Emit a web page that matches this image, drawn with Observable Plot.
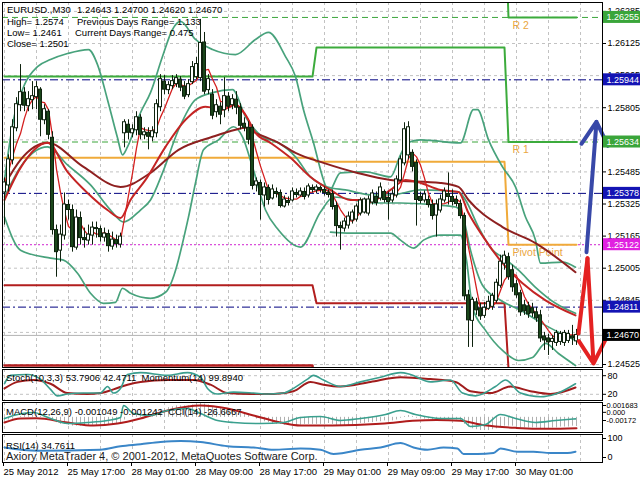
<!DOCTYPE html>
<html><head><meta charset="utf-8">
<script src="https://cdn.jsdelivr.net/npm/d3@7"></script>
<script src="https://cdn.jsdelivr.net/npm/@observablehq/plot@0.6"></script>
<style>
body{margin:0;background:#fff}
#c{position:relative;width:640px;height:480px;background:#fff;overflow:hidden;font-family:"Liberation Sans",Arial,sans-serif}
#c svg{position:absolute;left:0;overflow:visible}
.t{position:absolute;white-space:pre;font-size:9.5px;line-height:11px;color:#000}
</style></head><body><div id="c"></div>
<script>
// ---------- DATA ----------
const open=[1.25385,1.25420,1.25545,1.25705,1.25820,1.25880,1.25815,1.25845,1.25860,1.25895,
1.25745,1.25785,1.25655,1.25195,1.25095,1.25170,1.25320,1.25295,1.25110,1.25255,
1.25155,1.25145,1.25170,1.25205,1.25200,1.25160,1.25175,1.25115,1.25145,1.25125,
1.25680,1.25720,1.25680,1.25695,1.25755,1.25670,1.25680,1.25660,1.25680,1.25810,
1.25935,1.25895,1.25915,1.25925,1.25945,1.25910,1.25870,1.25935,1.25960,1.25955,
1.26130,1.25895,1.25870,1.25785,1.25810,1.25795,1.25860,1.25820,1.25845,1.25805,
1.25725,1.25705,1.25705,1.25420,1.25430,1.25370,1.25405,1.25355,1.25385,1.25380,
1.25315,1.25340,1.25345,1.25380,1.25370,1.25385,1.25370,1.25405,1.25395,1.25405,
1.25395,1.25380,1.25375,1.25315,1.25215,1.25205,1.25220,1.25245,1.25250,1.25280,
1.25285,1.25280,1.25335,1.25360,1.25355,1.25385,1.25355,1.25345,1.25370,1.25445,
1.25530,1.25570,1.25580,1.25530,1.25360,1.25345,1.25345,1.25320,1.25270,1.25295,
1.25345,1.25375,1.25360,1.25345,1.25325,1.25265,1.24870,1.24745,1.24835,1.24805,
1.24770,1.24805,1.24815,1.24845,1.24920,1.25030,1.25060,1.24995,1.24925,1.24880,
1.24820,1.24815,1.24805,1.24785,1.24770,1.24665,1.24655,1.24640,1.24635,1.24640,
1.24635,1.24645,1.24665,1.24643];
const high=[1.25455,1.25570,1.25745,1.25855,1.26020,1.25905,1.25885,1.25935,1.25935,1.25905,
1.25820,1.25795,1.25685,1.25220,1.25220,1.25380,1.25345,1.25320,1.25295,1.25285,
1.25205,1.25220,1.25235,1.25235,1.25215,1.25205,1.25195,1.25185,1.25170,1.25180,
1.25745,1.25745,1.25720,1.25785,1.25770,1.25705,1.25705,1.25710,1.25845,1.25970,
1.25965,1.25935,1.25965,1.25970,1.25960,1.25935,1.25945,1.26035,1.26055,1.26245,
1.26180,1.25970,1.25895,1.25845,1.25830,1.25955,1.25880,1.25870,1.25885,1.25825,
1.25755,1.25735,1.25720,1.25455,1.25445,1.25430,1.25420,1.25420,1.25405,1.25395,
1.25365,1.25360,1.25405,1.25400,1.25405,1.25405,1.25425,1.25420,1.25420,1.25415,
1.25410,1.25395,1.25395,1.25335,1.25235,1.25255,1.25285,1.25295,1.25325,1.25355,
1.25355,1.25365,1.25395,1.25385,1.25430,1.25395,1.25385,1.25395,1.25465,1.25565,
1.25730,1.25735,1.25595,1.25545,1.25385,1.25390,1.25365,1.25345,1.25345,1.25370,
1.25405,1.25480,1.25395,1.25365,1.25345,1.25280,1.24895,1.24860,1.24855,1.24830,
1.24835,1.24865,1.24880,1.24950,1.25070,1.25090,1.25080,1.25020,1.24945,1.24895,
1.24845,1.24835,1.24830,1.24810,1.24795,1.24685,1.24675,1.24670,1.24695,1.24690,
1.24695,1.24695,1.24720,1.24700];
const low=[1.25220,1.25385,1.25520,1.25685,1.25785,1.25785,1.25785,1.25795,1.25795,1.25660,
1.25720,1.25645,1.25170,1.24960,1.25035,1.25145,1.25245,1.25085,1.25095,1.25120,
1.25105,1.25120,1.25120,1.25155,1.25135,1.25135,1.25085,1.25095,1.25105,1.25105,
1.25605,1.25645,1.25655,1.25665,1.25645,1.25645,1.25595,1.25635,1.25655,1.25785,
1.25870,1.25870,1.25895,1.25905,1.25885,1.25845,1.25855,1.25920,1.25945,1.25935,
1.25870,1.25870,1.25745,1.25755,1.25720,1.25755,1.25785,1.25795,1.25770,1.25695,
1.25685,1.25620,1.25395,1.25385,1.25245,1.25310,1.25320,1.25345,1.25355,1.25305,
1.25305,1.25315,1.25335,1.25355,1.25360,1.25345,1.25355,1.25380,1.25375,1.25380,
1.25365,1.25355,1.25295,1.25160,1.25095,1.25185,1.25200,1.25225,1.25235,1.25265,
1.25275,1.25265,1.25320,1.25315,1.25340,1.25330,1.25245,1.25330,1.25355,1.25435,
1.25515,1.25545,1.25485,1.25215,1.25325,1.25330,1.25305,1.25245,1.25160,1.25280,
1.25330,1.25320,1.25315,1.25310,1.25250,1.24845,1.24610,1.24610,1.24770,1.24745,
1.24755,1.24795,1.24795,1.24830,1.24905,1.24995,1.24945,1.24885,1.24855,1.24765,
1.24770,1.24755,1.24760,1.24735,1.24635,1.24595,1.24570,1.24595,1.24615,1.24620,
1.24615,1.24630,1.24620,1.24620];
const close=[1.25430,1.25545,1.25705,1.25820,1.25880,1.25815,1.25845,1.25860,1.25905,1.25745,
1.25795,1.25670,1.25195,1.25085,1.25170,1.25320,1.25295,1.25110,1.25255,1.25155,
1.25145,1.25170,1.25205,1.25200,1.25160,1.25175,1.25115,1.25145,1.25125,1.25160,
1.25730,1.25680,1.25695,1.25755,1.25670,1.25680,1.25660,1.25685,1.25820,1.25945,
1.25895,1.25915,1.25935,1.25950,1.25905,1.25860,1.25920,1.26005,1.26020,1.26125,
1.25885,1.25945,1.25765,1.25815,1.25770,1.25860,1.25810,1.25845,1.25805,1.25715,
1.25705,1.25645,1.25415,1.25435,1.25370,1.25405,1.25345,1.25395,1.25375,1.25315,
1.25345,1.25330,1.25385,1.25370,1.25385,1.25360,1.25410,1.25395,1.25405,1.25395,
1.25380,1.25370,1.25310,1.25215,1.25205,1.25235,1.25260,1.25280,1.25310,1.25340,
1.25345,1.25345,1.25375,1.25330,1.25405,1.25345,1.25335,1.25370,1.25445,1.25545,
1.25695,1.25705,1.25510,1.25345,1.25340,1.25370,1.25320,1.25265,1.25320,1.25345,
1.25385,1.25360,1.25335,1.25325,1.25265,1.24865,1.24745,1.24845,1.24795,1.24765,
1.24805,1.24835,1.24865,1.24930,1.25035,1.25065,1.24960,1.24910,1.24870,1.24785,
1.24790,1.24775,1.24780,1.24755,1.24655,1.24645,1.24635,1.24650,1.24680,1.24675,
1.24680,1.24675,1.24655,1.24670];

const priceTicks=[1.24525,1.24685,1.24845,1.25005,1.25165,1.25325,1.25485,1.25645,1.25805,1.25965,1.26125,1.26285];
const timeLabels=["25 May 2012","25 May 17:00","28 May 01:00","28 May 09:00","28 May 17:00","29 May 01:00","29 May 09:00","29 May 17:00","30 May 01:00"];
const timeLabelBars=[0,16,32,48,64,80,96,112,128];

// Bollinger-style bands and moving averages: [bar, price]
const bandOuterUpper=[[0,1.25445],[2.25,1.25745],[5,1.25920],[8.25,1.26010],[11.5,1.26045],[15.75,1.26075],[21,1.26095],[23.25,1.26020],[25.75,1.25845],[28.25,1.25655],[29.5,1.25570],[30.75,1.25610],[34,1.25780],[36.5,1.25880],[39.5,1.26060],[42,1.26195],[44,1.26235],[47.75,1.26145],[52,1.26095],[57.75,1.26070],[62.75,1.26145],[66,1.26180],[70.25,1.26060],[72.75,1.25960],[74.75,1.25795],[77.25,1.25630],[79.75,1.25445],[81,1.25385],[84,1.25480],[90.25,1.25485],[96.5,1.25460],[99,1.25570],[100.75,1.25630],[104,1.25645],[114,1.25630],[117.25,1.25795],[118.25,1.25795],[121,1.25645],[124.5,1.25510],[127.75,1.25410],[130.25,1.25260],[132.75,1.25145],[134,1.25030],[139.5,1.25035],[142.75,1.25010]];
const bandInnerUpper=[[0,1.25360],[4,1.25510],[10.75,1.25610],[15.75,1.25520],[21.5,1.25420],[26.5,1.25295],[29.75,1.25235],[34,1.25295],[36.5,1.25345],[39.5,1.25480],[43.5,1.25695],[47.75,1.25845],[52,1.25880],[57,1.25895],[60.25,1.25760],[64.5,1.25660],[68.5,1.25630],[72.75,1.25560],[76.5,1.25460],[80.75,1.25410],[85.25,1.25395],[92.25,1.25370],[96.5,1.25370],[104,1.25395],[113.5,1.25385],[115.25,1.25345],[118.5,1.25210],[122,1.25095],[124.5,1.25060],[128.5,1.24995],[132.75,1.24910],[137.75,1.24830],[142.75,1.24780]];
const bandInnerLower=[[0,1.25260],[4,1.25095],[11.5,1.25055],[14.75,1.25045],[18.25,1.24980],[21.5,1.24880],[24.75,1.24830],[27.75,1.24835],[29.5,1.24905],[31.5,1.24880],[36.5,1.24855],[40.25,1.24885],[46,1.25260],[47.75,1.25430],[49.75,1.25595],[53.5,1.25645],[57.25,1.25710],[59.5,1.25660],[62,1.25510],[65.25,1.25295],[68.5,1.25195],[74,1.25110],[79,1.25285],[82.25,1.25360],[92.25,1.25330],[99,1.25330],[107.75,1.25320],[112.75,1.25310],[114.5,1.25270],[116.5,1.25095],[119.5,1.24920],[124,1.24845],[129,1.24795],[135.25,1.24720],[142.75,1.24645]];
const bandOuterLower=[[81.5,1.25185],[86.5,1.25180],[96.5,1.25180],[99,1.25145],[102.25,1.25105],[104.75,1.25145],[109,1.25170],[114,1.25170],[115.5,1.25045],[117,1.24810],[120.25,1.24695],[124.5,1.24595],[128.5,1.24545],[132,1.24560],[135.25,1.24630],[138.5,1.24580],[142.75,1.24520]];
const maMid=[[0,1.25345],[4,1.25505],[10.75,1.25630],[15.75,1.25485],[20.75,1.25380],[25.75,1.25295],[29,1.25255],[31.5,1.25345],[35.25,1.25445],[40.25,1.25610],[45.25,1.25745],[50.25,1.25810],[54.5,1.25795],[57.75,1.25820],[60.25,1.25770],[62.75,1.25680],[66.5,1.25630],[71.5,1.25555],[76.5,1.25460],[81.5,1.25395],[86.5,1.25345],[92.25,1.25345],[96.5,1.25395],[100.25,1.25445],[103.25,1.25435],[109,1.25395],[113.5,1.25385],[116,1.25280],[120.25,1.25145],[124.5,1.25030],[129.5,1.24930],[135.25,1.24845],[142.75,1.24770]];
const maSlow=[[0,1.25420],[4,1.25545],[10.75,1.25630],[19.75,1.25510],[29,1.25410],[36.5,1.25480],[43.5,1.25595],[52,1.25660],[57.75,1.25695],[60.25,1.25705],[62.75,1.25680],[68.5,1.25630],[72.75,1.25580],[79.75,1.25530],[88.25,1.25480],[96.5,1.25445],[109,1.25430],[113.5,1.25410],[116,1.25345],[124.5,1.25210],[132.75,1.25130],[142.75,1.24985]];

// daily pivot levels
const pivotDayStart=[0,78,126];
const pivotDayEnd=[77,125,143];
const pivotR2=[1.26595,1.26810,1.26255];
const pivotR1=[1.25960,1.26105,1.25634];
const pivotP=[1.25555,1.25535,1.25122];
const pivotS1=[1.24920,1.24830,1.24504];
const pivotS2=[1.24520,1.24260,1.23992];
const pivotLabels=["R 2","R 1","Pivot Point"];

// horizontal levels and right-axis price labels
const greenLevels=[1.26255,1.25634];
const navyLevels=[1.25944,1.25378,1.24811];
const magentaLevel=1.25122;
const bidPrice=1.24670;
const labelPrices=[1.26255,1.25944,1.25634,1.25378,1.25122,1.24811,1.24670];
const labelColors=["#3aa53a","#1414b4","#3aa53a","#1414b4","#e020e0","#1414b4","#000000"];

// projection arrows [bar, price]
const redPath=[[143.5,1.24680],[145.75,1.25055],[147.25,1.24530]];
const bluePath=[[145.5,1.25085],[148,1.25735]];

// sub-window indicators
const stochMain=[[0,54],[1.5,81],[5.75,84],[9,69],[11.5,36],[13.25,15],[15.75,21],[19.75,24],[24,24],[25.75,45],[27.25,24],[29,39],[30.75,84],[34,90],[40.75,81],[45.75,90],[49,75],[50.75,39],[53.25,21],[57.25,27],[62.25,24],[65.75,21],[69.75,24],[72.25,39],[75.75,69],[77.25,81],[79.75,66],[84,45],[89,60],[94,75],[99,90],[101.5,84],[106.5,60],[111.5,66],[114.5,24],[117.75,15],[122.75,45],[125.25,66],[129,24],[134,12],[137.75,21],[142.75,54]];
const stochSignal=[[0,39],[3.25,60],[7.25,66],[11.5,54],[15.75,24],[20.75,21],[24,24],[27.25,36],[30.75,51],[34,60],[40.75,66],[47.25,66],[51.5,51],[55.75,24],[61.5,21],[67.25,21],[72.25,30],[76.5,60],[79.75,51],[84,45],[91.5,60],[99,75],[106.5,69],[112.75,60],[116.5,30],[121.5,24],[126.5,45],[131.5,30],[136.5,21],[142.75,42]];
const macdMain=[-0.0004,-0.0003,-0.0002,0,0.0001,0.0002,0.0002,0.0002,0.0002,0.0001,0.0001,0,
-0.0003,-0.0006,-0.0008,-0.0008,-0.0009,-0.001,-0.001,-0.001,-0.001,-0.001,-0.0009,-0.0009,-0.0009,-0.0009,-0.0009,-0.0009,-0.0008,-0.0008,
-0.0003,0,0.0002,0.0004,0.0004,0.0005,0.0005,0.0005,
0.0007,0.0009,0.001,0.0011,0.0012,0.0013,0.0013,0.0013,0.0013,0.0014,0.0015,0.0016,0.0015,
0.0014,0.0012,0.0011,0.001,0.001,0.0009,0.0009,0.0008,0.0006,0.0005,0.0003,
0,-0.0002,-0.0004,-0.0005,-0.0006,-0.0007,-0.0008,-0.0008,-0.0009,-0.0009,-0.0009,-0.0009,-0.0009,-0.0008,-0.0008,-0.0008,-0.0008,-0.0008,-0.0008,-0.0007,
-0.0008,-0.0009,-0.001,-0.001,-0.001,-0.0009,-0.0008,-0.0007,-0.0007,-0.0006,-0.0006,-0.0005,-0.0005,-0.0004,-0.0004,-0.0004,
-0.0003,-0.0001,0.0001,0.0002,0.0001,-0.0001,-0.0002,-0.0002,-0.0002,-0.0003,-0.0003,-0.0003,-0.0003,-0.0003,-0.0003,-0.0003,-0.0004,
-0.0008,-0.0011,-0.0013,-0.0014,-0.0015,-0.0015,-0.0015,-0.0014,-0.0013,-0.0011,-0.001,-0.001,-0.001,-0.0011,-0.0012,-0.0012,-0.0012,-0.0012,-0.0012,-0.0013,-0.0013,-0.0013,-0.0012,-0.0012,-0.0011,-0.0011,-0.0011,-0.001,-0.001049];
const macdSignal=[[0,-0.00059],[4,-0.00013],[8,-0.0001],[15.75,-0.00059],[22.25,-0.00093],[28.25,-0.0007],[34,-0.00013],[40.75,0.00078],[49,0.00134],[55.75,0.001],[62.25,0.00021],[69,-0.00059],[74,-0.00093],[79,-0.00093],[85,-0.0009],[95,-0.0007],[102,-0.0004],[108,-0.0003],[114,-0.0004],[120,-0.0009],[128,-0.0012],[136,-0.0013],[143,-0.001242]];
const cciLine=[[0,-20],[2.25,40],[7.25,100],[11.5,-20],[15.75,-120],[20.75,-100],[25.75,-60],[29,0],[29.75,240],[32.25,80],[36.5,40],[40.75,140],[45.75,180],[49,80],[53.25,-60],[57.25,-100],[64,-120],[69.75,-100],[74,0],[79,20],[84,-60],[89,-20],[95.25,60],[99,140],[102.75,60],[109,-20],[114,-20],[116.5,-180],[120.25,-140],[124,60],[127.75,-20],[132.75,-100],[137.75,-60],[142.75,-27]];
const rsiLine=[[0,52],[8.25,39],[24,43],[29,57],[34,65],[39,74],[44,78],[49,74],[55.75,57],[62.25,52],[67.25,43],[74,48],[79,43],[82.25,26],[84.75,30],[89,43],[94,52],[99,70],[102.25,52],[105.75,43],[109.75,52],[113.25,48],[114.75,26],[118.25,26],[122.25,30],[124,48],[128.25,35],[132.25,35],[136.5,30],[140.75,30],[142.75,35]];

// ---------- BUILD ----------
const C=document.getElementById("c");
const FONT='"Liberation Sans",Arial,sans-serif';
const FS=9;
const xDomain=[-0.5,149.5];
const gridBars=d3.range(0,150,8);
const pts=a=>a.map(([b,v])=>({b,v}));
const bars=open.map((o,i)=>({i,open:o,high:high[i],low:low[i],close:close[i]}));
const up=bars.filter(d=>d.close>=d.open), dn=bars.filter(d=>d.close<d.open);
const pivotLine=lv=>lv.flatMap((v,k)=>[{b:pivotDayStart[k],v},{b:pivotDayEnd[k],v}]);
const levels=labelPrices.map((p,k)=>({p,c:labelColors[k]}));
const gridStyle={stroke:"#c2c2c2",strokeOpacity:1,strokeDasharray:"3,3"};
const common={width:640,marginLeft:2,marginRight:38,x:{domain:xDomain,axis:null},style:{background:"none",fontFamily:FONT,fontSize:FS+"px",color:"#000",overflow:"visible"}};
function add(svg,top){svg.style.top=top+"px";C.appendChild(svg);}

const main=Plot.plot({...common,height:368,marginTop:2,marginBottom:1,
 y:{domain:[1.2451005,1.263294],axis:null},
 marks:[
  Plot.gridY(priceTicks,gridStyle),
  Plot.gridX(gridBars,gridStyle),
  Plot.ruleY(greenLevels,{stroke:"#3aa53a",strokeDasharray:"6,4"}),
  Plot.ruleY(navyLevels,{stroke:"#000080",strokeDasharray:"8,3,2,3"}),
  Plot.ruleY([magentaLevel],{stroke:"#d020d0",strokeDasharray:"2,2"}),
  Plot.ruleY([bidPrice],{stroke:"#b4b4b4"}),
  Plot.line(pivotLine(pivotR2),{x:"b",y:"v",stroke:"#3cab3c",strokeWidth:2,clip:true}),
  Plot.line(pivotLine(pivotR1),{x:"b",y:"v",stroke:"#3cab3c",strokeWidth:2,clip:true}),
  Plot.line(pivotLine(pivotP),{x:"b",y:"v",stroke:"#f0aa3a",strokeWidth:2,clip:true}),
  Plot.line(pivotLine(pivotS1),{x:"b",y:"v",stroke:"#b21e1e",strokeWidth:2,clip:true}),
  Plot.line(pivotLine(pivotS2),{x:"b",y:"v",stroke:"#b21e1e",strokeWidth:2.5,clip:true}),
  Plot.text(pivotLabels,{x:()=>pivotDayStart[2]+1,y:(d,k)=>[pivotR2[2],pivotR1[2],pivotP[2]][k],text:d=>d,dy:8,textAnchor:"start",fill:"#eaa640",fontSize:10.5}),
  ...[bandOuterUpper,bandInnerUpper,bandInnerLower,bandOuterLower].map(a=>Plot.line(pts(a),{x:"b",y:"v",stroke:"#48a27c",strokeWidth:1.7,curve:"monotone-x",clip:true})),
  Plot.line(pts(maSlow),{x:"b",y:"v",stroke:"#8e2020",strokeWidth:2,curve:"monotone-x",clip:true}),
  Plot.line(pts(maMid),{x:"b",y:"v",stroke:"#c42424",strokeWidth:2,curve:"monotone-x",clip:true}),
  Plot.line(bars,Plot.windowY({k:5,anchor:"end"},{x:"i",y:"close",stroke:"#d42020",strokeWidth:1.3,clip:true})),
  Plot.ruleX(bars,{x:"i",y1:"low",y2:"high",stroke:"#0e220e"}),
  Plot.rect(up,{x1:"i",x2:"i",y1:"open",y2:"close",insetLeft:-1.5,insetRight:-1.5,insetTop:-0.5,insetBottom:-0.5,fill:"#fff",stroke:"#0e220e"}),
  Plot.rect(dn,{x1:"i",x2:"i",y1:"open",y2:"close",insetLeft:-1.5,insetRight:-1.5,fill:"#1a461a",stroke:"#0e220e"}),
  Plot.line(pts(redPath.slice(0,2)),{x:"b",y:"v",stroke:"#e42222",strokeWidth:4}),
  Plot.arrow([0],{x1:()=>redPath[1][0],y1:()=>redPath[1][1],x2:()=>redPath[2][0],y2:()=>redPath[2][1],stroke:"#e42222",strokeWidth:4,headLength:10}),
  Plot.arrow([0],{x1:()=>bluePath[0][0],y1:()=>bluePath[0][1],x2:()=>bluePath[1][0],y2:()=>bluePath[1][1],stroke:"#3848a8",strokeWidth:4,headLength:10}),
  Plot.frame({stroke:"#000"}),
  Plot.axisY(priceTicks,{anchor:"right",tickFormat:d=>d.toFixed(5),tickSize:3,tickPadding:2,label:null,fontSize:FS}),
  Plot.rect(levels,{x1:()=>xDomain[1],x2:()=>xDomain[1],y1:"p",y2:"p",insetLeft:1,insetRight:-38,insetTop:-6,insetBottom:-6,fill:"c"}),
  Plot.text(levels,{x:()=>xDomain[1],y:"p",text:d=>d.p.toFixed(5),dx:4,textAnchor:"start",fill:"#fff",fontSize:FS})
 ]});
add(main,0);

const stoch=Plot.plot({...common,height:35,marginTop:2,marginBottom:2,
 y:{domain:[0,100],axis:null},
 marks:[
  Plot.gridX(gridBars,gridStyle),
  Plot.gridY([20,80],gridStyle),
  Plot.line(pts(stochSignal),{x:"b",y:"v",stroke:"#a01c1c",strokeWidth:2,curve:"monotone-x"}),
  Plot.line(pts(stochMain),{x:"b",y:"v",stroke:"#3a9e8e",strokeWidth:1.6,curve:"monotone-x"}),
  Plot.frame({stroke:"#000"}),
  Plot.axisY([80,20],{anchor:"right",tickSize:3,tickPadding:2,label:null,fontSize:FS})
 ]});
add(stoch,367);

const macd=Plot.plot({...common,height:34,marginTop:2,marginBottom:2,
 y:{domain:[-0.00172,0.001683],axis:null},
 marks:[
  Plot.gridX(gridBars,gridStyle),
  Plot.ruleX(macdMain,{x:(d,k)=>k,y1:0,y2:d=>d,stroke:"#b0b0b0"}),
  Plot.line(pts(macdSignal),{x:"b",y:"v",stroke:"#b01c1c",strokeWidth:2,curve:"monotone-x"}),
  Plot.frame({stroke:"#000"}),
  Plot.axisY([0.001683],{anchor:"right",tickSize:3,tickPadding:1,label:null,fontSize:7.5,tickFormat:d=>"0.001683",dy:3}),
  Plot.axisY([0],{anchor:"right",tickSize:3,tickPadding:1,label:null,fontSize:7.5,tickFormat:d=>"0.000",dy:-5}),
  Plot.axisY([-0.00172],{anchor:"right",tickSize:3,tickPadding:1,label:null,fontSize:7.5,tickFormat:d=>"-0.00172",dy:-12})
 ]});
add(macd,400);
const cci=Plot.plot({...common,height:34,marginTop:2,marginBottom:2,
 y:{domain:[-300,300],axis:null},
 marks:[Plot.line(pts(cciLine),{x:"b",y:"v",stroke:"#3aa08e",strokeWidth:1.6,curve:"monotone-x"})]});
add(cci,400);

const rsi=Plot.plot({...common,height:48,marginTop:2,marginBottom:18,
 y:{domain:[-8,104],axis:null},
 marks:[
  Plot.gridX(gridBars,gridStyle),
  Plot.line(pts(rsiLine),{x:"b",y:"v",stroke:"#3a86c8",strokeWidth:2,curve:"monotone-x"}),
  Plot.frame({stroke:"#000"}),
  Plot.axisY([100],{anchor:"right",tickSize:3,tickPadding:2,label:null,fontSize:FS,dy:3}),
  Plot.axisY([0],{anchor:"right",tickSize:3,tickPadding:2,label:null,fontSize:FS,dy:-3}),
  Plot.axisX(timeLabelBars,{anchor:"bottom",tickSize:4,tickPadding:2,textAnchor:"start",dx:-1,label:null,fontSize:9.5,tickFormat:d=>timeLabels[timeLabelBars.indexOf(d)]})
 ]});
add(rsi,432);

// text annotations
const notes=[
 ["EURUSD.,M30",7,4],["1.24643 1.24700 1.24620 1.24670",77,4],
 ["High= 1.2574",7,16],["Previous Days Range= 1.133",77,16],
 ["Low= 1.2461",7,27],["Current Days Range= 0.475",75,27],
 ["Close= 1.2501",7,38],
 ["Stoch(10,3,3) 53.7906 42.4711  Momentum(14) 99.8940",6,372],
 ["MACD(12,26,9) -0.001049 -0.001242  CCI(14) -26.6667",6,406],
 ["RSI(14) 34.7611",6,440]
];
notes.forEach(([t,x,y])=>{const d=document.createElement("div");d.className="t";d.textContent=t;d.style.left=x+"px";d.style.top=y+"px";C.appendChild(d);});
const cp=document.createElement("div");cp.className="t";cp.style.fontSize="11px";cp.style.lineHeight="13px";cp.style.left="6px";cp.style.top="450px";cp.style.color="#1a1a1a";
cp.textContent="Axiory MetaTrader 4, \u00a9 2001-2012, MetaQuotes Software Corp.";C.appendChild(cp);
</script></body></html>
